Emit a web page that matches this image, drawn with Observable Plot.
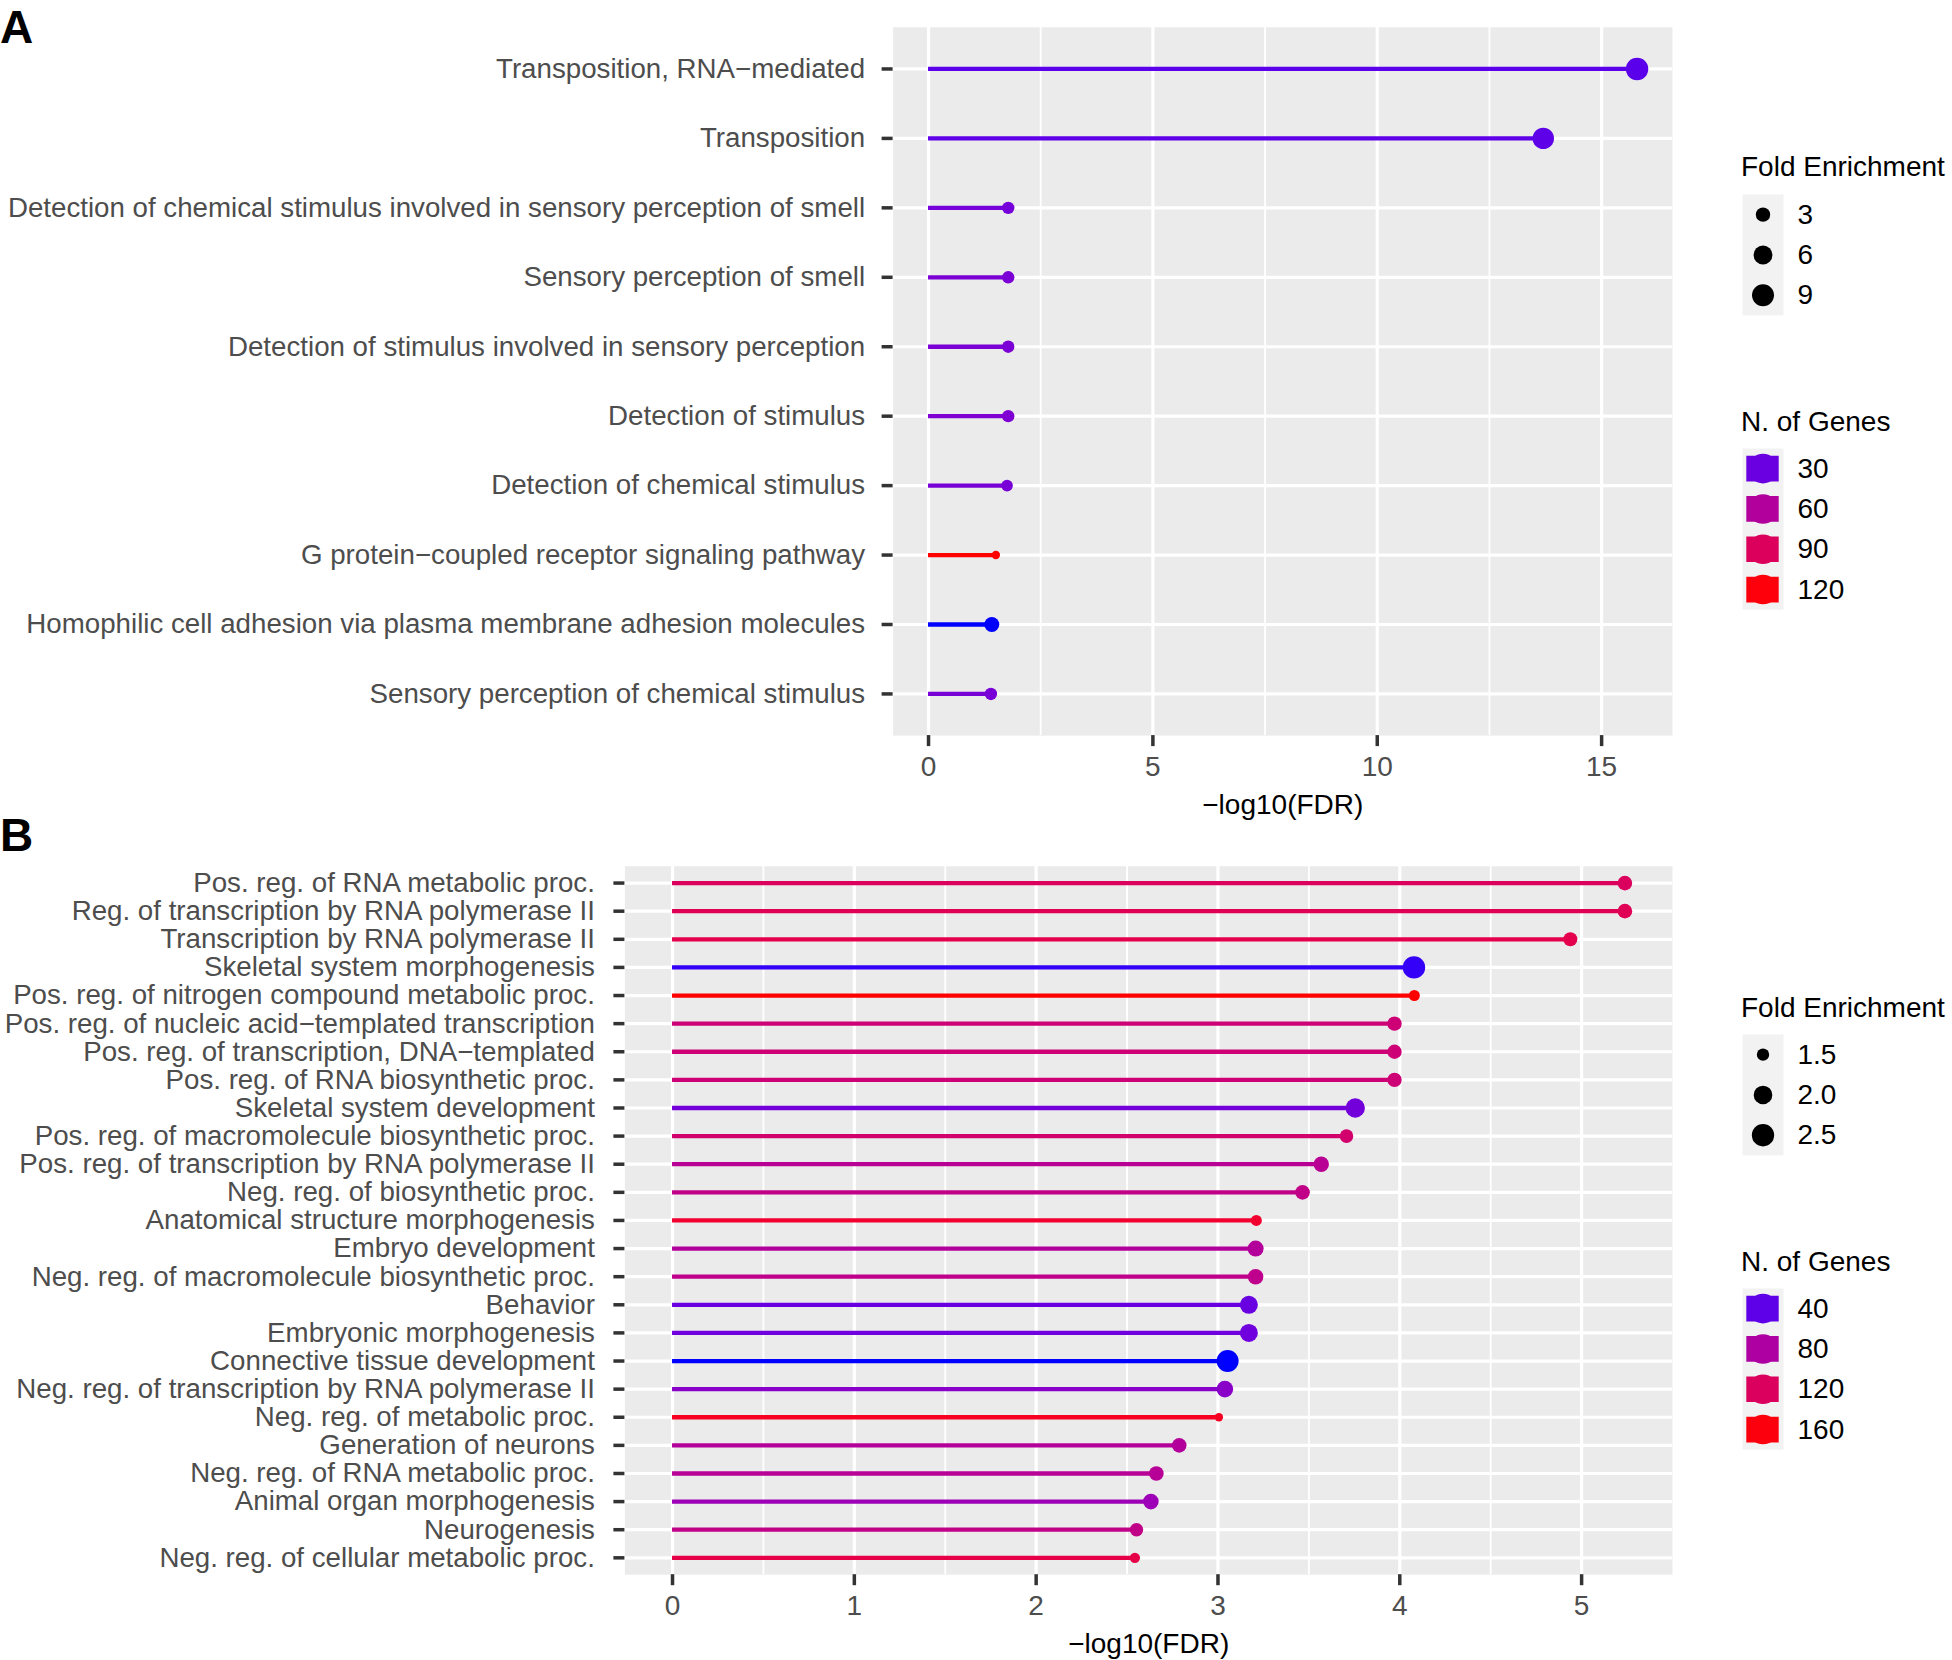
<!DOCTYPE html>
<html><head><meta charset="utf-8">
<script src="https://cdn.jsdelivr.net/npm/d3@7"></script>
<script src="https://cdn.jsdelivr.net/npm/@observablehq/plot@0.6"></script>
<style>
body{margin:0;background:#fff;}
#root{position:relative;width:1952px;height:1660px;overflow:hidden;background:#fff;font-family:"Liberation Sans",Arial,Helvetica,sans-serif;}
.abs{position:absolute;}
.tag{font-weight:bold;font-size:46px;line-height:1;color:#000;}
.ltitle{font-size:28px;line-height:1;color:#000;white-space:nowrap;}
</style></head><body><div id="root"></div>
<script>
// ---------- Panel A data ----------
const termsA = [
  "Transposition, RNA−mediated",
  "Transposition",
  "Detection of chemical stimulus involved in sensory perception of smell",
  "Sensory perception of smell",
  "Detection of stimulus involved in sensory perception",
  "Detection of stimulus",
  "Detection of chemical stimulus",
  "G protein−coupled receptor signaling pathway",
  "Homophilic cell adhesion via plasma membrane adhesion molecules",
  "Sensory perception of chemical stimulus"
];
const fdrA   = [15.79, 13.70, 1.776, 1.776, 1.776, 1.776, 1.75, 1.50, 1.41, 1.39];
const genesA = [26, 27, 33, 35, 35, 36, 34, 122, 17, 34];
const foldA  = [9.45, 8.36, 2.19, 2.19, 2.19, 2.19, 1.96, 1.55, 3.31, 2.19];
const ticksA = [0, 5, 10, 15];
const minorA = [2.5, 7.5, 12.5];
const sizeBreaksA = [3, 6, 9];
const colorBreaksA = [30, 60, 90, 120];

// ---------- Panel B data ----------
const termsB = [
  "Pos. reg. of RNA metabolic proc.",
  "Reg. of transcription by RNA polymerase II",
  "Transcription by RNA polymerase II",
  "Skeletal system morphogenesis",
  "Pos. reg. of nitrogen compound metabolic proc.",
  "Pos. reg. of nucleic acid−templated transcription",
  "Pos. reg. of transcription, DNA−templated",
  "Pos. reg. of RNA biosynthetic proc.",
  "Skeletal system development",
  "Pos. reg. of macromolecule biosynthetic proc.",
  "Pos. reg. of transcription by RNA polymerase II",
  "Neg. reg. of biosynthetic proc.",
  "Anatomical structure morphogenesis",
  "Embryo development",
  "Neg. reg. of macromolecule biosynthetic proc.",
  "Behavior",
  "Embryonic morphogenesis",
  "Connective tissue development",
  "Neg. reg. of transcription by RNA polymerase II",
  "Neg. reg. of metabolic proc.",
  "Generation of neurons",
  "Neg. reg. of RNA metabolic proc.",
  "Animal organ morphogenesis",
  "Neurogenesis",
  "Neg. reg. of cellular metabolic proc."
];
const fdrB   = [5.238, 5.238, 4.938, 4.078, 4.08, 3.971, 3.971, 3.971, 3.755, 3.707, 3.568, 3.465, 3.211, 3.207, 3.207, 3.170, 3.170, 3.053, 3.038, 3.005, 2.787, 2.661, 2.631, 2.552, 2.543];
const genesB = [120, 125, 130, 31, 163, 106, 106, 106, 47, 111, 88, 95, 147, 84, 92, 43, 46, 27, 57, 152, 84, 87, 68, 95, 133];
const foldB  = [1.63, 1.63, 1.59, 2.52, 1.45, 1.61, 1.61, 1.61, 2.09, 1.56, 1.69, 1.63, 1.45, 1.74, 1.70, 1.93, 1.93, 2.46, 1.79, 1.41, 1.63, 1.63, 1.70, 1.55, 1.43];
const ticksB = [0, 1, 2, 3, 4, 5];
const minorB = [0.5, 1.5, 2.5, 3.5, 4.5];
const sizeBreaksB = [1.5, 2.0, 2.5];
const colorBreaksB = [40, 80, 120, 160];

// ---------- Texts ----------
const xTitle = "−log10(FDR)";
const sizeTitle = "Fold Enrichment";
const colorTitle = "N. of Genes";
const tags = ["A", "B"];

// ---------- helpers ----------
const FONT = '"Liberation Sans", Arial, Helvetica, sans-serif';
const FS = 28;
const FSY = 27.7;
const root = document.getElementById("root");

function rScale(fold) {
  const [lo, hi] = d3.extent(fold);
  // ggplot-like area palette: radius grows with sqrt of rescaled value
  return {type: "pow", exponent: 0.5, transform: v => Math.max(0, v - lo), domain: [0, hi - lo], range: [4.2, 11.2]};
}
function colorScale(genes) {
  return {type: "linear", domain: d3.extent(genes), range: ["blue", "red"], interpolate: d3.interpolateLab};
}
function place(el, left, top) {
  el.style.position = "absolute";
  el.style.left = left + "px";
  el.style.top = top + "px";
  root.appendChild(el);
}
function addDiv(cls, text, left, top) {
  const d = document.createElement("div");
  d.className = "abs " + cls;
  d.textContent = text;
  d.style.left = left + "px";
  d.style.top = top + "px";
  root.appendChild(d);
}

function panel(o) {
  const data = o.terms.map((t, i) => ({term: t, fdr: o.fdr[i], genes: o.genes[i], fold: o.fold[i]}));
  const xmax = d3.max(o.fdr), pad = 0.05 * xmax;
  return Plot.plot({
    width: o.W, height: o.H,
    marginLeft: o.left, marginRight: o.W - o.right, marginTop: o.top, marginBottom: o.H - o.bottom,
    style: {fontFamily: FONT, background: "transparent", overflow: "visible"},
    x: {domain: [-pad, xmax + pad]},
    y: {type: "point", domain: o.terms, padding: 0.6, round: false},
    r: rScale(o.fold),
    color: colorScale(o.genes),
    marks: [
      Plot.frame({fill: "#EBEBEB", stroke: null}),
      Plot.gridX({ticks: o.minor, stroke: "white", strokeOpacity: 1, strokeWidth: 1.8}),
      Plot.gridX({ticks: o.ticks, stroke: "white", strokeOpacity: 1, strokeWidth: 3.2}),
      Plot.gridY({stroke: "white", strokeOpacity: 1, strokeWidth: 3.2}),
      Plot.ruleY(data, {y: "term", x1: 0, x2: "fdr", stroke: "genes", strokeWidth: 4.3}),
      Plot.dot(data, {x: "fdr", y: "term", r: "fold", fill: "genes"}),
      Plot.axisX({ticks: o.ticks, tickFormat: d => String(d), tickSize: 11, tickPadding: 9.5, strokeWidth: 3.5, stroke: "#333333", fill: "#4D4D4D", fontSize: FS, label: null}),
      Plot.axisY({tickSize: 11, tickPadding: o.tickPad, strokeWidth: 3.5, stroke: "#333333", fill: "#4D4D4D", fontSize: FSY, label: null}),
      Plot.text([xTitle], {text: d => d, frameAnchor: "bottom", dy: 78, lineAnchor: "bottom", fontSize: FS, fill: "#000"})
    ]
  });
}

function sizeLegend(breaks, fold, fmt) {
  return Plot.plot({
    width: 41 + 170, height: breaks.length * 40.3,
    marginLeft: 0, marginRight: 170, marginTop: 0, marginBottom: 0,
    style: {fontFamily: FONT, background: "transparent", overflow: "visible"},
    y: {type: "point", domain: breaks, padding: 0.5, round: false, axis: null},
    r: rScale(fold),
    marks: [
      Plot.frame({fill: "#F2F2F2", stroke: null}),
      Plot.dot(breaks, {y: d => d, r: d => d, fill: "black"}),
      Plot.text(breaks, {y: d => d, text: d => fmt(d), frameAnchor: "right", dx: 14, textAnchor: "start", fontSize: FS, fill: "#000"})
    ]
  });
}
function colorLegend(breaks, genes) {
  return Plot.plot({
    width: 41 + 170, height: breaks.length * 40.3,
    marginLeft: 0, marginRight: 170, marginTop: 0, marginBottom: 0,
    style: {fontFamily: FONT, background: "transparent", overflow: "visible"},
    y: {type: "point", domain: breaks, padding: 0.5, round: false, axis: null},
    color: colorScale(genes),
    marks: [
      Plot.frame({fill: "#F2F2F2", stroke: null}),
      Plot.tickY(breaks, {y: d => d, stroke: d => d, strokeWidth: 25.7, insetLeft: 4.3, insetRight: 4.3}),
      Plot.dot(breaks, {y: d => d, r: 14.8, fill: d => d}),
      Plot.text(breaks, {y: d => d, text: d => String(d), frameAnchor: "right", dx: 14, textAnchor: "start", fontSize: FS, fill: "#000"})
    ]
  });
}

// ---------- Panel A ----------
place(panel({terms: termsA, fdr: fdrA, genes: genesA, fold: foldA, ticks: ticksA, minor: minorA,
  W: 1700, H: 830, left: 892.6, right: 1672, top: 26.8, bottom: 735.1, tickPad: 17}), 0, 0);
// ---------- Panel B ----------
place(panel({terms: termsB, fdr: fdrB, genes: genesB, fold: foldB, ticks: ticksB, minor: minorB,
  W: 1700, H: 830, left: 624.4, right: 1672, top: 35.7, bottom: 744.2, tickPad: 19}), 0, 830);

// ---------- Legends ----------
place(sizeLegend(sizeBreaksA, foldA, d => String(d)), 1741.7, 194);
place(colorLegend(colorBreaksA, genesA), 1741.7, 448.3);
place(sizeLegend(sizeBreaksB, foldB, d3.format(".1f")), 1741.7, 1034);
place(colorLegend(colorBreaksB, genesB), 1741.7, 1288.3);

addDiv("ltitle", sizeTitle, 1741, 153.3);
addDiv("ltitle", colorTitle, 1741, 408);
addDiv("ltitle", sizeTitle, 1741, 993.6);
addDiv("ltitle", colorTitle, 1741, 1248);

addDiv("tag", tags[0], 0, 3.5);
addDiv("tag", tags[1], 0, 812);
</script></body></html>
